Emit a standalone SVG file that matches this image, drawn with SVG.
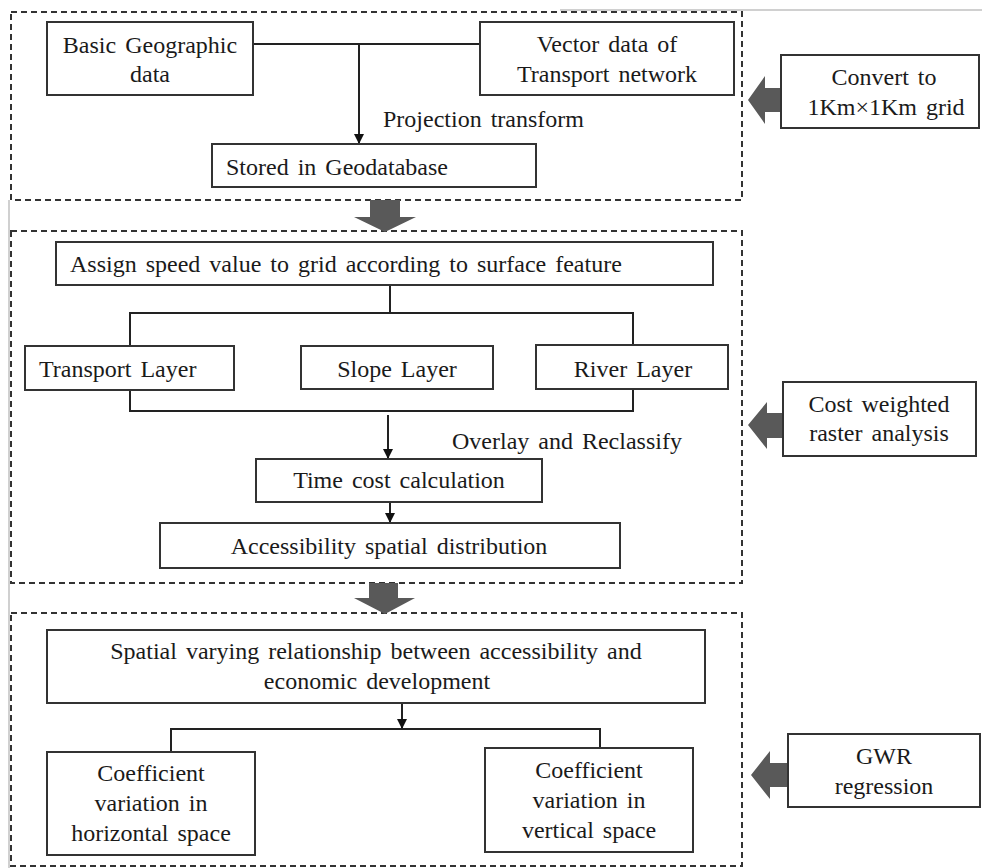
<svg xmlns="http://www.w3.org/2000/svg" width="982" height="868" viewBox="0 0 982 868">
<defs>
<style>
.box{fill:#fff;stroke:#333;stroke-width:2}
.sec{fill:none;stroke:#333;stroke-width:2;stroke-dasharray:6 4}
.ln{fill:none;stroke:#222;stroke-width:2}
.big{fill:#595959}
text{font-size:24px;fill:#1a1a1a;word-spacing:3px}
.c{text-anchor:middle}
.frame{stroke:#d0d0d0;stroke-width:2;fill:none}
</style>
<marker id="ah" markerWidth="12" markerHeight="12" refX="10" refY="5" orient="auto" markerUnits="userSpaceOnUse">
<path d="M0,0 L10,5 L0,10 Z" fill="#111"/>
</marker>
</defs>
<rect width="982" height="868" fill="#fff"/>
<g id="frame">
<line class="frame" x1="560" y1="10" x2="982" y2="10"/>
<line class="frame" x1="9" y1="200" x2="9" y2="868"/>
</g>
<g id="sections">
<rect class="sec" x="11" y="12" width="731" height="188"/>
<rect class="sec" x="11" y="231" width="731" height="352"/>
<rect class="sec" x="11" y="613" width="731" height="253"/>
</g>
<g id="connectors">
<polyline class="ln" points="253,44 480,44"/>
<line class="ln" x1="359" y1="44" x2="359" y2="144" marker-end="url(#ah)"/>
<line class="ln" x1="390" y1="285" x2="390" y2="313"/>
<polyline class="ln" points="130,346 130,313 633,313 633,346"/>
<polyline class="ln" points="130,390 130,411 633,411 633,389"/>
<line class="ln" x1="388" y1="415" x2="388" y2="459" marker-end="url(#ah)"/>
<line class="ln" x1="390" y1="502" x2="390" y2="523" marker-end="url(#ah)"/>
<line class="ln" x1="402" y1="703" x2="402" y2="729" marker-end="url(#ah)"/>
<polyline class="ln" points="171,752 171,729 600,729 600,748"/>
<path class="big" d="M370,200 H400 V217 H416 L385,232 L354,217 H370 Z"/>
<path class="big" d="M369,583 H398 V598 H415 L385,614 L354,598 H369 Z"/>
<path class="big" d="M781,88 H765 V76 L748,100 L765,124 V112 H781 Z"/>
<path class="big" d="M783,413 H767 V402 L748,425 L767,449 V438 H783 Z"/>
<path class="big" d="M788,763 H770 V751 L751,775 L770,799 V787 H788 Z"/>
</g>
<g font-family="'Liberation Serif', 'Times New Roman', serif">
<g id="basic">
<rect class="box" x="47" y="22" width="206" height="73"/>
<text class="c" x="150" y="53">Basic Geographic</text>
<text class="c" x="150" y="82">data</text>
</g>
<g id="vector">
<rect class="box" x="480" y="22" width="254" height="73"/>
<text class="c" x="607" y="52">Vector data of</text>
<text class="c" x="607" y="82">Transport network</text>
</g>
<g id="projection-label">
<text x="383" y="127">Projection transform</text>
</g>
<g id="stored">
<rect class="box" x="212" y="144" width="324" height="43"/>
<text x="226" y="175">Stored in Geodatabase</text>
</g>
<g id="convert">
<rect class="box" x="781" y="55" width="198" height="73"/>
<text class="c" x="884" y="85">Convert to</text>
<text class="c" x="886" y="115">1Km×1Km grid</text>
</g>
<g id="assign">
<rect class="box" x="56" y="242" width="657" height="43"/>
<text x="70" y="272">Assign speed value to grid according to surface feature</text>
</g>
<g id="transport">
<rect class="box" x="25" y="346" width="209" height="44"/>
<text x="39" y="377">Transport Layer</text>
</g>
<g id="slope">
<rect class="box" x="301" y="346" width="192" height="43"/>
<text class="c" x="397" y="377">Slope Layer</text>
</g>
<g id="river">
<rect class="box" x="536" y="345" width="192" height="44"/>
<text class="c" x="633" y="377">River Layer</text>
</g>
<g id="overlay-label">
<text x="452" y="449">Overlay and Reclassify</text>
</g>
<g id="timecost">
<rect class="box" x="256" y="459" width="286" height="43"/>
<text class="c" x="399" y="488">Time cost calculation</text>
</g>
<g id="accessibility">
<rect class="box" x="160" y="523" width="460" height="45"/>
<text class="c" x="389" y="554">Accessibility spatial distribution</text>
</g>
<g id="costweighted">
<rect class="box" x="783" y="382" width="193" height="74"/>
<text class="c" x="879" y="412">Cost weighted</text>
<text class="c" x="879" y="441">raster analysis</text>
</g>
<g id="spatial">
<rect class="box" x="47" y="630" width="658" height="73"/>
<text class="c" x="376" y="659">Spatial varying relationship between accessibility and</text>
<text class="c" x="377" y="689">economic development</text>
</g>
<g id="horizontal">
<rect class="box" x="47" y="752" width="208" height="103"/>
<text class="c" x="151" y="781">Coefficient</text>
<text class="c" x="151" y="811">variation in</text>
<text class="c" x="151" y="841">horizontal space</text>
</g>
<g id="vertical">
<rect class="box" x="485" y="748" width="208" height="104"/>
<text class="c" x="589" y="778">Coefficient</text>
<text class="c" x="589" y="808">variation in</text>
<text class="c" x="589" y="838">vertical space</text>
</g>
<g id="gwr">
<rect class="box" x="788" y="734" width="192" height="73"/>
<text class="c" x="884" y="764">GWR</text>
<text class="c" x="884" y="794">regression</text>
</g>
</g>
</svg>
